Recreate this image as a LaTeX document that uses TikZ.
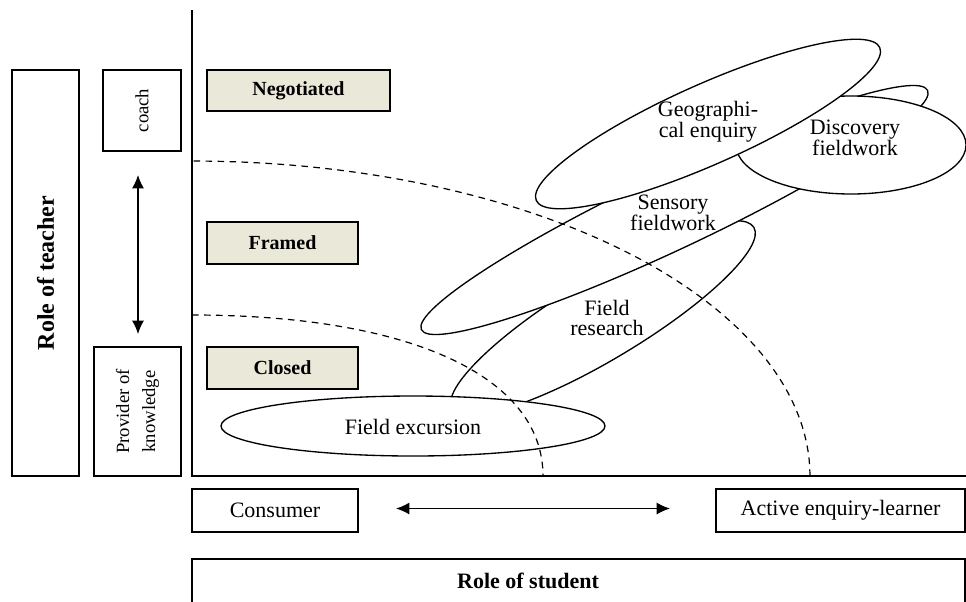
\documentclass[tikz,border=0pt]{standalone}
\usepackage{fontspec}
\setmainfont{Liberation Serif}
\usetikzlibrary{shapes.geometric,arrows.meta}
\definecolor{levelfill}{RGB}{234,232,217}

\begin{document}
\begin{tikzpicture}[x=0.75pt,y=-0.75pt,line width=1pt,
  role box/.style={draw,inner sep=0pt,align=center,font=\fontsize{14pt}{19.5pt}\selectfont},
  level box/.style={draw,fill=levelfill,inner sep=0pt,font=\fontsize{15pt}{18pt}\selectfont\bfseries},
  student box/.style={draw,inner sep=0pt,font=\fontsize{16.5pt}{19pt}\selectfont},
  field node/.style={ellipse,draw,fill=white,inner sep=0pt},
  field text/.style={align=center,inner sep=0pt,font=\fontsize{16.5pt}{15.5pt}\selectfont},
  boundary/.style={dash pattern=on 5pt off 4pt,line width=0.9pt},
  both ways/.style={{Latex[length=10pt,width=9pt]}-{Latex[length=10pt,width=9pt]}}]

  \useasboundingbox (0,0) rectangle (966,601);
  \clip (0,0) rectangle (966,601);

  % role of teacher
  \node[role box,rotate=90,minimum width=304.5pt,minimum height=50.25pt,
        font=\fontsize{18pt}{20pt}\selectfont\bfseries] (teacher) at (45.5,273) {Role of teacher};
  \node[role box,rotate=90,minimum width=60.75pt,minimum height=58.5pt] (coach) at (142,110.5) {coach};
  \node[role box,rotate=90,minimum width=96.75pt,minimum height=65.25pt] (provider) at (137.5,411.5) {Provider of\\knowledge};

  \coordinate (coach tip) at (138,175);
  \coordinate (provider tip) at (138,334);
  \draw[both ways] (coach tip) -- (provider tip);

  % axes
  \coordinate (top) at (192,10);
  \coordinate (origin) at (192,476);
  \coordinate (far) at (966,476);
  \draw (top) -- (origin) -- (far);

  % levels
  \node[level box,minimum width=137.25pt,minimum height=30.75pt] (negotiated) at (298.5,90.5) {Negotiated};
  \node[level box,minimum width=113.25pt,minimum height=31.5pt] (framed) at (282.5,243) {Framed};
  \node[level box,minimum width=113.25pt,minimum height=31.5pt] (closed) at (282.5,368) {Closed};

  % kinds of fieldwork
  \node[field node,rotate=31,minimum width=264pt,minimum height=61.5pt] (research) at (603,318) {};
  \node[field node,rotate=25.3,minimum width=420pt,minimum height=57pt] (sensory) at (674.5,210) {};
  \node[field node,minimum width=172.5pt,minimum height=73.5pt] (discovery) at (851,145) {};
  \node[field node,rotate=24,minimum width=282pt,minimum height=60pt] (enquiry) at (708,124) {};
  \node[field node,minimum width=288pt,minimum height=45pt] (excursion) at (413,426) {};

  \node[field text] (enquiry label) at (708,122) {Geographi-\\cal enquiry};
  \node[field text] (discovery label) at (855,138) {Discovery\\fieldwork};
  \node[field text] (sensory label) at (673,213) {Sensory\\fieldwork};
  \node[field text] (research label) at (607,318) {Field\\research};
  \node[field text] (excursion label) at (413,427) {Field excursion};

  % boundaries
  \draw[boundary] plot[domain=0:90,samples=60] ({192+618*cos(\x)},{476-315*sin(\x)});
  \draw[boundary] (192,315) .. controls (409.6,315) and (543,376.2) .. (543,476);

  % role of student
  \node[student box,minimum width=124.5pt,minimum height=32.25pt] (consumer) at (275,510.5) {Consumer};
  \node[student box,minimum width=186.75pt,minimum height=32.25pt] (active) at (840.5,510.5) {Active enquiry-learner};

  \coordinate (consumer tip) at (396,508.5);
  \coordinate (active tip) at (670,508.5);
  \draw[both ways] (consumer tip) -- (active tip);

  \node[student box,minimum width=579.75pt,minimum height=42pt] (student) at (578.5,587) {};
  \node[inner sep=0pt,font=\fontsize{16.5pt}{19pt}\selectfont\bfseries] (student label) at (528,581) {Role of student};
\end{tikzpicture}
\end{document}
